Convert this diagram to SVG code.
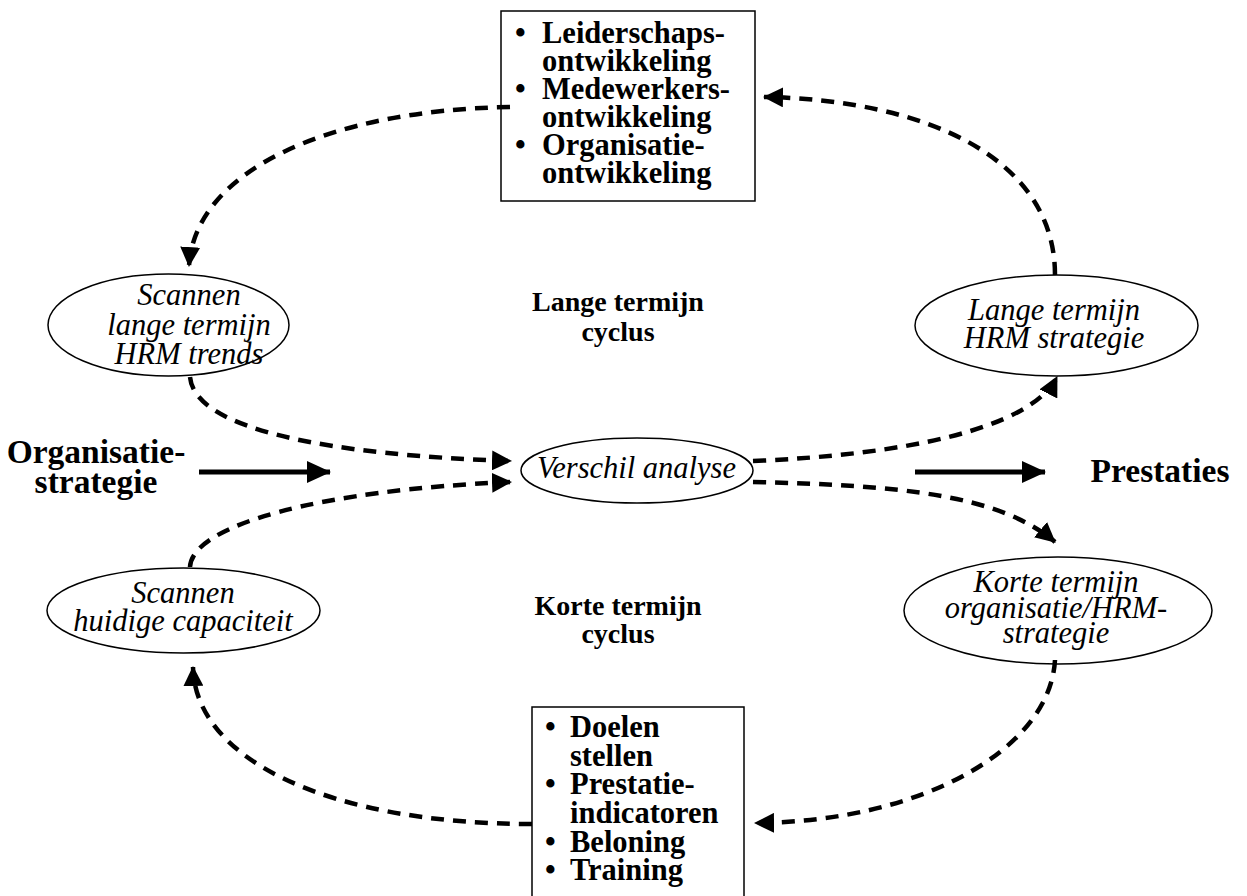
<svg xmlns="http://www.w3.org/2000/svg" width="1247" height="896" viewBox="0 0 1247 896">
<style>
.bx{fill:#fff;stroke:#000;stroke-width:1.5}
.el{fill:#fff;stroke:#000;stroke-width:1.5}
.bt{font-family:"Liberation Serif",serif;font-weight:bold;font-size:30.5px;fill:#000}
.it{font-family:"Liberation Serif",serif;font-style:italic;font-size:30.5px;fill:#000;text-anchor:middle}
.lb{font-family:"Liberation Serif",serif;font-weight:bold;font-size:33.5px;fill:#000;text-anchor:middle}
.ml{font-family:"Liberation Serif",serif;font-weight:bold;font-size:28px;fill:#000;text-anchor:middle}
.dash{fill:none;stroke:#000;stroke-width:4.5;stroke-dasharray:13 9}
.solid{fill:none;stroke:#000;stroke-width:5}
</style>
<defs>
<marker id="ah" markerUnits="userSpaceOnUse" markerWidth="20" markerHeight="20" refX="19" refY="10" orient="auto">
<path d="M0,0 L20,10 L0,20 z" fill="#000"/>
</marker>
<marker id="sh" markerUnits="userSpaceOnUse" markerWidth="24" markerHeight="22" refX="23" refY="11" orient="auto">
<path d="M0,0 L24,11 L0,22 z" fill="#000"/>
</marker>
</defs>
<g id="box-top">
<rect class="bx" x="501" y="11" width="254" height="190"/>
<text class="bt"><tspan x="515" y="43">•</tspan><tspan x="542" y="43">Leiderschaps-</tspan><tspan x="542" y="71">ontwikkeling</tspan><tspan x="515" y="99">•</tspan><tspan x="542" y="99">Medewerkers-</tspan><tspan x="542" y="127">ontwikkeling</tspan><tspan x="515" y="155">•</tspan><tspan x="542" y="155">Organisatie-</tspan><tspan x="542" y="183">ontwikkeling</tspan></text>
</g>
<g id="box-bottom">
<rect class="bx" x="532" y="707" width="212" height="200"/>
<text class="bt"><tspan x="545" y="737">•</tspan><tspan x="570" y="737">Doelen</tspan><tspan x="570" y="766">stellen</tspan><tspan x="545" y="794">•</tspan><tspan x="570" y="794">Prestatie-</tspan><tspan x="570" y="823">indicatoren</tspan><tspan x="545" y="852">•</tspan><tspan x="570" y="852">Beloning</tspan><tspan x="545" y="880">•</tspan><tspan x="570" y="880">Training</tspan></text>
</g>
<g id="scan-long">
<ellipse class="el" cx="168.5" cy="325" rx="120.5" ry="51"/>
<text class="it"><tspan x="189" y="305">Scannen</tspan><tspan x="189" y="335">lange termijn</tspan><tspan x="189" y="364">HRM trends</tspan></text>
</g>
<g id="long-strategy">
<ellipse class="el" cx="1056.5" cy="325.5" rx="141.5" ry="50.5"/>
<text class="it"><tspan x="1054" y="320">Lange termijn</tspan><tspan x="1054" y="348">HRM strategie</tspan></text>
</g>
<g id="gap-analysis">
<ellipse class="el" cx="637" cy="470.5" rx="116" ry="32.5"/>
<text class="it" x="636.5" y="478">Verschil analyse</text>
</g>
<g id="scan-current">
<ellipse class="el" cx="183.5" cy="610.5" rx="136.5" ry="42.5"/>
<text class="it"><tspan x="183" y="603">Scannen</tspan><tspan x="183" y="631">huidige capaciteit</tspan></text>
</g>
<g id="short-strategy">
<ellipse class="el" cx="1058" cy="610.5" rx="154" ry="53.5"/>
<text class="it"><tspan x="1056" y="592">Korte termijn</tspan><tspan x="1056" y="618">organisatie/HRM-</tspan><tspan x="1056" y="643">strategie</tspan></text>
</g>
<g id="org-strategy">
<text class="lb"><tspan x="96" y="463">Organisatie-</tspan><tspan x="96" y="493">strategie</tspan></text>
</g>
<g id="performance">
<text class="lb" x="1160" y="482">Prestaties</text>
</g>
<g id="long-cycle">
<text class="ml"><tspan x="618" y="311">Lange termijn</tspan><tspan x="618" y="341">cyclus</tspan></text>
</g>
<g id="short-cycle">
<text class="ml"><tspan x="618" y="615">Korte termijn</tspan><tspan x="618" y="643">cyclus</tspan></text>
</g>
<g id="connectors">
<path class="dash" d="M510,107 C330,110 195,170 189,266" marker-end="url(#ah)"/>
<path class="dash" d="M1055,275 C1055,160 930,100 764,97" marker-end="url(#ah)"/>
<path class="dash" d="M190,377 C195,430 330,455 511,461" marker-end="url(#ah)"/>
<path class="dash" d="M190,567 C192,525 320,490 511,482" marker-end="url(#ah)"/>
<path class="dash" d="M753,461 C900,455 1030,430 1057,377" marker-end="url(#ah)"/>
<path class="dash" d="M753,482 C900,485 1000,495 1055,542" marker-end="url(#ah)"/>
<path class="dash" d="M1055,660 C1050,750 920,822 755,823" marker-end="url(#ah)"/>
<path class="dash" d="M532,824 C330,824 195,760 193,667" marker-end="url(#ah)"/>
<path class="solid" d="M199,472 L330,472" marker-end="url(#sh)"/>
<path class="solid" d="M915,472 L1045,472" marker-end="url(#sh)"/>
</g>
</svg>
